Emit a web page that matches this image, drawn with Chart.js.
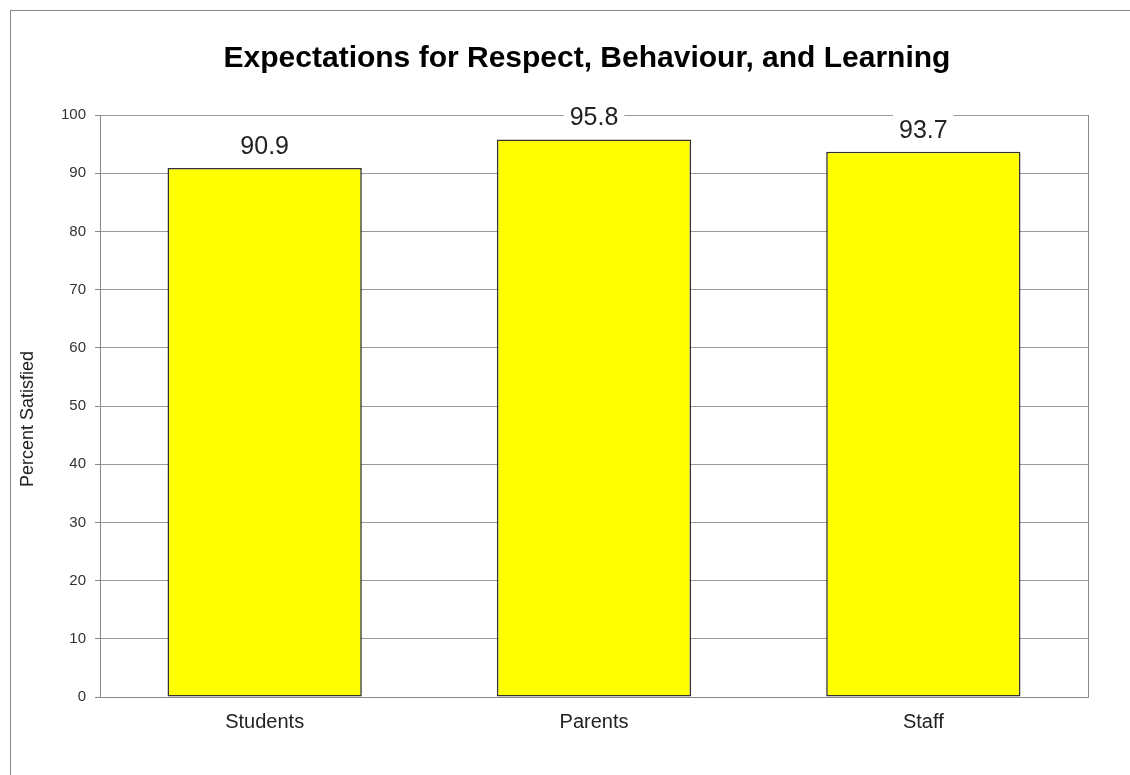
<!DOCTYPE html>
<html>
<head>
<meta charset="utf-8">
<script src="https://cdn.jsdelivr.net/npm/chart.js@4.4.1/dist/chart.umd.min.js"></script>
<style>
html,body{margin:0;padding:0;background:#fff;}
#wrap{width:1130px;height:775px;position:relative;}
</style>
</head>
<body>
<div id="wrap"><canvas id="c" width="1130" height="775"></canvas></div>
<script>
const categories = ["Students", "Parents", "Staff"];
const percentSatisfied = [90.9, 95.8, 93.7];
const yTicks = [0, 10, 20, 30, 40, 50, 60, 70, 80, 90, 100];
const chartTitle = "Expectations for Respect, Behaviour, and Learning";
const yAxisTitle = "Percent Satisfied";

const FONT = "Arial, 'Liberation Sans', sans-serif";

const decor = {
  id: 'decor',
  beforeDraw(chart) {
    const ctx = chart.ctx;
    ctx.save();
    ctx.fillStyle = '#fff';
    ctx.fillRect(0, 0, chart.width, chart.height);
    ctx.strokeStyle = '#888';
    ctx.lineWidth = 1;
    ctx.strokeRect(10.5, 10.5, 1300, 1000);
    ctx.restore();
  },
  afterDraw(chart) {
    const ctx = chart.ctx;
    const a = chart.chartArea;
    ctx.save();
    // title
    ctx.fillStyle = '#000';
    ctx.font = 'bold 30px ' + FONT;
    ctx.textAlign = 'center';
    ctx.textBaseline = 'alphabetic';
    ctx.fillText(chartTitle, 587, 67);
    // y axis title
    ctx.save();
    ctx.translate(28, 419);
    ctx.rotate(-Math.PI / 2);
    ctx.font = '18px ' + FONT;
    ctx.fillStyle = '#222';
    ctx.textBaseline = 'middle';
    ctx.fillText(yAxisTitle, 0, 0);
    ctx.restore();
    // right border of plot area
    ctx.strokeStyle = '#888';
    ctx.lineWidth = 1;
    ctx.beginPath();
    ctx.moveTo(Math.round(a.right) + 0.5, a.top);
    ctx.lineTo(Math.round(a.right) + 0.5, a.bottom);
    ctx.stroke();
    // data labels
    const meta = chart.getDatasetMeta(0);
    ctx.font = '25px ' + FONT;
    ctx.textBaseline = 'alphabetic';
    meta.data.forEach((bar, i) => {
      const txt = percentSatisfied[i].toFixed(1);
      const w = ctx.measureText(txt).width + 12;
      const base = bar.y - 14;
      ctx.fillStyle = '#fff';
      ctx.fillRect(bar.x - w / 2, base - 25, w, 32);
      ctx.fillStyle = '#222';
      ctx.fillText(txt, bar.x, base);
    });
    ctx.restore();
  }
};

new Chart(document.getElementById('c'), {
  type: 'bar',
  data: {
    labels: categories,
    datasets: [{
      data: percentSatisfied,
      backgroundColor: '#ffff00',
      borderColor: '#333',
      borderWidth: 1.6,
      borderSkipped: false,
      barPercentage: 0.59,
      categoryPercentage: 1.0
    }]
  },
  options: {
    responsive: false,
    animation: false,
    devicePixelRatio: 1,
    layout: { padding: { left: 0, top: 115, right: 42, bottom: 0 } },
    plugins: { legend: { display: false }, tooltip: { enabled: false }, title: { display: false } },
    scales: {
      x: {
        grid: { display: false, drawTicks: false },
        border: { display: true, color: '#888', width: 1 },
        ticks: { color: '#222', font: { family: FONT, size: 20 }, padding: 13 },
        afterFit(s) { s.height = 78; }
      },
      y: {
        min: 0, max: 100,
        afterBuildTicks(s) { s.ticks = yTicks.map(v => ({ value: v })); },
        grid: { color: '#999', lineWidth: 1, tickLength: 5, drawTicks: true, tickColor: '#888' },
        border: { display: true, color: '#888', width: 1 },
        ticks: { color: '#333', font: { family: FONT, size: 15 }, padding: 9 },
        afterFit(s) { s.width = 100; }
      }
    }
  },
  plugins: [decor]
});
</script>
</body>
</html>
